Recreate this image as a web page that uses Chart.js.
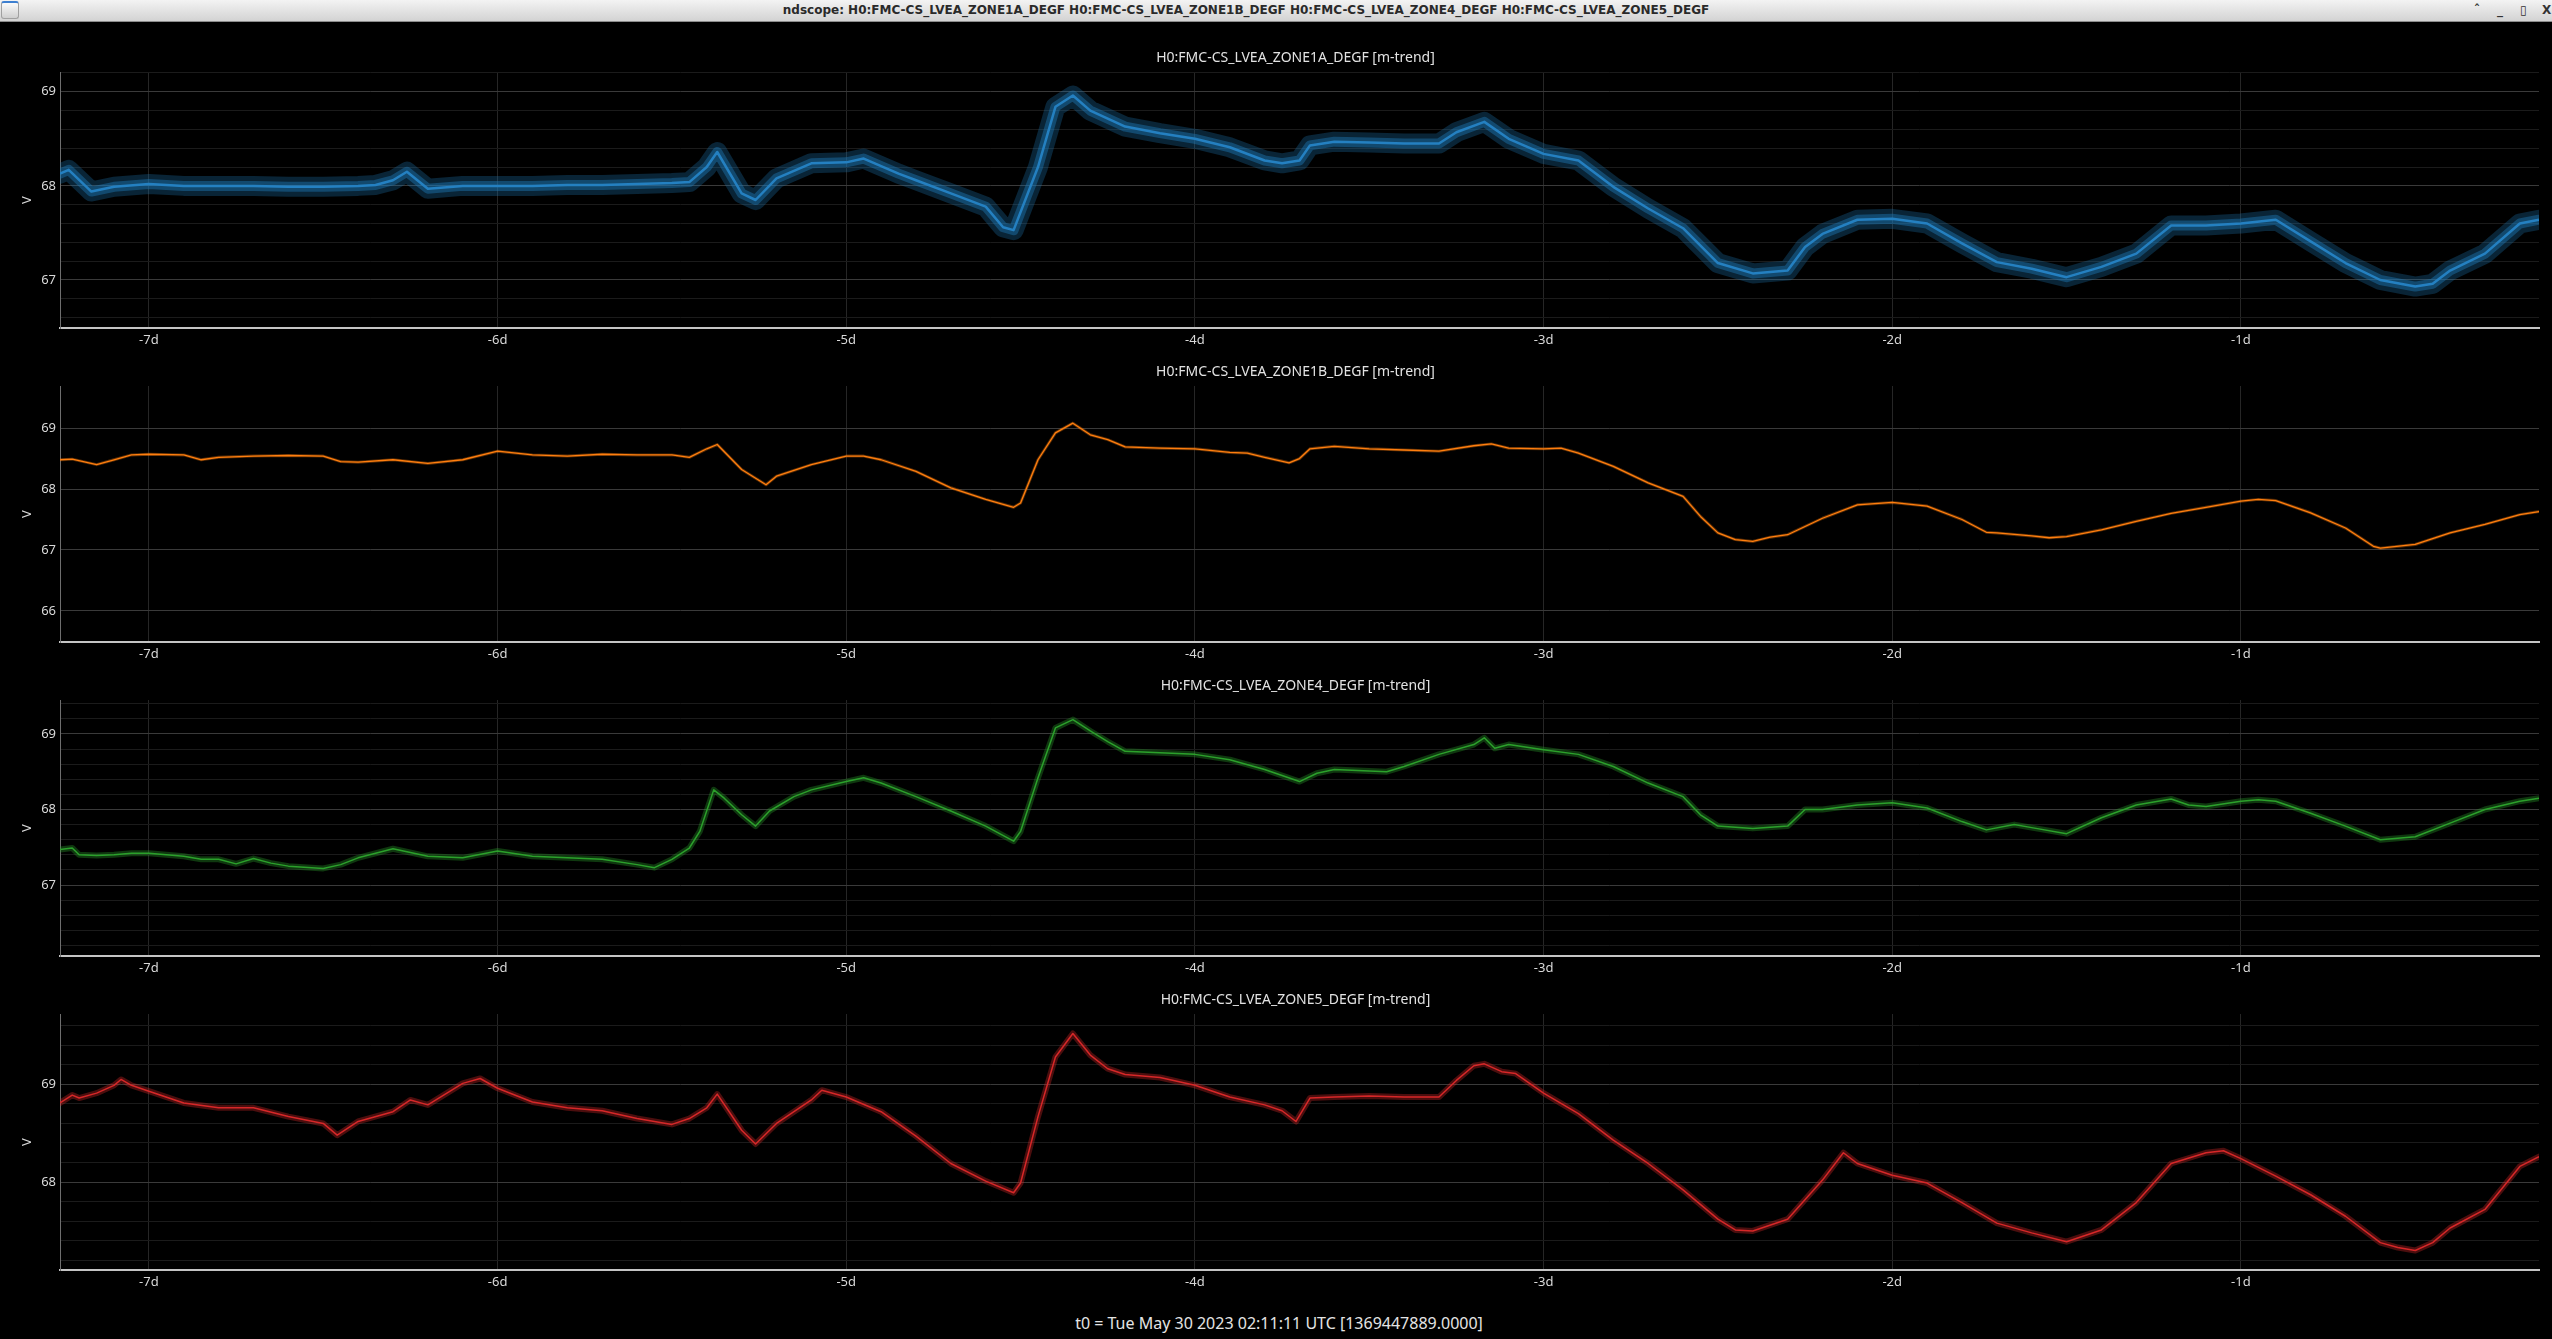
<!DOCTYPE html>
<html>
<head>
<meta charset="utf-8">
<title>ndscope</title>
<script src="https://cdn.jsdelivr.net/npm/chart.js@4.4.0/dist/chart.umd.min.js"></script>
<style>
  html, body { margin: 0; padding: 0; background: #000; width: 2552px; height: 1339px; overflow: hidden; }
  #titlebar { position: absolute; left: 0; top: 0; width: 2552px; height: 22px; box-sizing: border-box;
    background: linear-gradient(#f3f3f3, #d3d3d3); border-bottom: 1px solid #8c8c8c; }
  #titlebar .txt { position: absolute; left: 0; top: 0; width: 2492px; text-align: center;
    font: bold 12px "DejaVu Sans"; line-height: 21px; color: #2a2a2a; white-space: nowrap; }
  #titlebar .icon { position: absolute; left: 1px; top: 1px; width: 18px; height: 18px; border-radius: 3px;
    background: linear-gradient(#fafafa, #cfcfcf); border: 1px solid #a0a0a0; border-top: 2px solid #3d7fd0; box-sizing: border-box; }
  #titlebar .btn { position: absolute; top: 0; font: bold 12px "DejaVu Sans"; line-height: 20px; color: #333; }
  canvas { position: absolute; left: 0; }
  #t0 { position: absolute; left: 0; width: 2558px; top: 1312px; text-align: center;
    font: 16px "Noto Sans"; color: #e4e4e4; }
</style>
</head>
<body>
<div id="titlebar">
  <div class="icon"></div>
  <div class="txt">ndscope: H0:FMC-CS_LVEA_ZONE1A_DEGF H0:FMC-CS_LVEA_ZONE1B_DEGF H0:FMC-CS_LVEA_ZONE4_DEGF H0:FMC-CS_LVEA_ZONE5_DEGF</div>
  <span class="btn" style="left:2474px">&#710;</span>
  <span class="btn" style="left:2497px">_</span>
  <span class="btn" style="left:2520px">&#9647;</span>
  <span class="btn" style="left:2542px">X</span>
</div>
<canvas id="p1" width="2552" height="314" style="top:42px"></canvas>
<canvas id="p2" width="2552" height="314" style="top:356px"></canvas>
<canvas id="p3" width="2552" height="314" style="top:670px"></canvas>
<canvas id="p4" width="2552" height="314" style="top:984px"></canvas>
<div id="t0">t0 = Tue May 30 2023 02:11:11 UTC [1369447889.0000]</div>
<script>
// days relative to t0
const dayTicks = [-7, -6, -5, -4, -3, -2, -1];
const dayLabels = ['-7d', '-6d', '-5d', '-4d', '-3d', '-2d', '-1d'];

// ZONE1A
const zone1aTimes = [
  -7.255, -7.23, -7.165, -7.1, -7.0, -6.9, -6.8, -6.7, -6.6, -6.5,
  -6.4, -6.35, -6.3, -6.26, -6.2, -6.1, -6.0, -5.9, -5.8, -5.7,
  -5.6, -5.5, -5.45, -5.4, -5.37, -5.3, -5.26, -5.2, -5.1, -5.0,
  -4.95, -4.85, -4.8, -4.7, -4.6, -4.55, -4.52, -4.45, -4.4, -4.35,
  -4.3, -4.2, -4.1, -4.0, -3.9, -3.8, -3.75, -3.7, -3.67, -3.6,
  -3.5, -3.4, -3.3, -3.25, -3.17, -3.1, -3.0, -2.9, -2.8, -2.7,
  -2.6, -2.5, -2.4, -2.3, -2.25, -2.2, -2.1, -2.0, -1.9, -1.8,
  -1.7, -1.6, -1.5, -1.4, -1.3, -1.2, -1.1, -1.0, -0.9, -0.8,
  -0.7, -0.6, -0.5, -0.45, -0.4, -0.3, -0.2, -0.145
];
const zone1aValues = [
  68.13, 68.17, 67.94, 67.99, 68.02, 68.0, 68.0, 68.0, 67.99, 67.99,
  68.0, 68.01, 68.06, 68.15, 67.97, 68.0, 68.0, 68.0, 68.01, 68.01,
  68.02, 68.03, 68.04, 68.2, 68.36, 67.92, 67.85, 68.08, 68.24, 68.25,
  68.29, 68.13, 68.06, 67.92, 67.78, 67.56, 67.53, 68.2, 68.84, 68.96,
  68.8, 68.63, 68.56, 68.5, 68.41, 68.27, 68.24, 68.27, 68.43, 68.47,
  68.46, 68.45, 68.45, 68.57, 68.68, 68.5, 68.34, 68.27, 67.99, 67.76,
  67.55, 67.18, 67.07, 67.1, 67.35, 67.49, 67.64, 67.65, 67.6, 67.39,
  67.19, 67.12, 67.03, 67.14, 67.28, 67.58, 67.58, 67.6, 67.64, 67.41,
  67.18, 67.0, 66.93, 66.96, 67.1, 67.28, 67.6, 67.64
];

// ZONE1B
const zone1bTimes = [
  -7.255, -7.22, -7.15, -7.1, -7.05, -7.0, -6.9, -6.85, -6.8, -6.7,
  -6.6, -6.5, -6.45, -6.4, -6.3, -6.2, -6.1, -6.0, -5.9, -5.8,
  -5.7, -5.6, -5.5, -5.45, -5.4, -5.37, -5.3, -5.23, -5.2, -5.1,
  -5.0, -4.95, -4.9, -4.8, -4.7, -4.6, -4.52, -4.5, -4.45, -4.4,
  -4.35, -4.3, -4.25, -4.2, -4.1, -4.0, -3.9, -3.85, -3.8, -3.73,
  -3.7, -3.67, -3.6, -3.5, -3.4, -3.3, -3.2, -3.15, -3.1, -3.0,
  -2.95, -2.9, -2.8, -2.7, -2.6, -2.55, -2.5, -2.45, -2.4, -2.35,
  -2.3, -2.2, -2.1, -2.0, -1.9, -1.8, -1.73, -1.7, -1.6, -1.55,
  -1.5, -1.4, -1.3, -1.2, -1.1, -1.0, -0.95, -0.9, -0.8, -0.7,
  -0.62, -0.6, -0.5, -0.4, -0.3, -0.2, -0.145
];
const zone1bValues = [
  68.48, 68.49, 68.4, 68.48, 68.56, 68.57, 68.56, 68.48, 68.52, 68.54,
  68.55, 68.54, 68.45, 68.44, 68.48, 68.42, 68.48, 68.62, 68.56, 68.54,
  68.57, 68.56, 68.56, 68.52, 68.66, 68.73, 68.32, 68.07, 68.21, 68.4,
  68.54, 68.54, 68.48, 68.29, 68.02, 67.83, 67.7, 67.77, 68.48, 68.92,
  69.08, 68.89, 68.81, 68.69, 68.67, 68.66, 68.6, 68.59, 68.52, 68.43,
  68.5, 68.66, 68.7, 68.66, 68.64, 68.62, 68.71, 68.74, 68.67, 68.66,
  68.67, 68.59, 68.37, 68.1, 67.88, 67.55, 67.28, 67.17, 67.14, 67.21,
  67.25, 67.52, 67.74, 67.78, 67.72, 67.5, 67.29, 67.28, 67.23, 67.2,
  67.22, 67.33, 67.47, 67.6, 67.7, 67.8, 67.83, 67.81, 67.61, 67.36,
  67.06, 67.03, 67.09, 67.28, 67.42, 67.58, 67.63
];

// ZONE4
const zone4Times = [
  -7.255, -7.22, -7.2, -7.15, -7.1, -7.05, -7.0, -6.9, -6.85, -6.8,
  -6.75, -6.7, -6.65, -6.6, -6.5, -6.45, -6.4, -6.3, -6.2, -6.1,
  -6.0, -5.9, -5.8, -5.7, -5.6, -5.55, -5.5, -5.45, -5.42, -5.38,
  -5.35, -5.3, -5.26, -5.22, -5.15, -5.1, -5.0, -4.95, -4.9, -4.8,
  -4.7, -4.6, -4.52, -4.5, -4.45, -4.4, -4.35, -4.3, -4.25, -4.2,
  -4.1, -4.0, -3.9, -3.8, -3.7, -3.65, -3.6, -3.5, -3.45, -3.4,
  -3.3, -3.2, -3.17, -3.14, -3.1, -3.0, -2.9, -2.8, -2.7, -2.6,
  -2.55, -2.5, -2.4, -2.3, -2.25, -2.2, -2.1, -2.0, -1.9, -1.8,
  -1.73, -1.65, -1.6, -1.5, -1.4, -1.3, -1.2, -1.15, -1.1, -1.0,
  -0.95, -0.9, -0.8, -0.7, -0.6, -0.5, -0.4, -0.3, -0.2, -0.145
];
const zone4Values = [
  67.47, 67.49, 67.4, 67.39, 67.4, 67.42, 67.42, 67.38, 67.34, 67.34,
  67.28, 67.35, 67.29, 67.25, 67.22, 67.27, 67.36, 67.48, 67.38, 67.36,
  67.45, 67.38, 67.36, 67.34, 67.27, 67.23, 67.34, 67.49, 67.71, 68.26,
  68.15, 67.93, 67.78, 67.98, 68.17, 68.26, 68.37, 68.42, 68.35, 68.17,
  67.98, 67.78, 67.58, 67.71, 68.42, 69.08, 69.19, 69.04, 68.9, 68.77,
  68.75, 68.73, 68.66, 68.53, 68.37, 68.48, 68.53, 68.51, 68.5, 68.57,
  68.73, 68.86, 68.95, 68.81, 68.86, 68.79, 68.73, 68.57, 68.35, 68.17,
  67.93, 67.78, 67.75, 67.78, 68.0, 68.0, 68.06, 68.09, 68.02, 67.84,
  67.73, 67.8, 67.76, 67.68, 67.89, 68.06, 68.14, 68.06, 68.04, 68.11,
  68.13, 68.11, 67.95, 67.78, 67.6, 67.64, 67.82, 68.0, 68.11, 68.15
];

// ZONE5
const zone5Times = [
  -7.255, -7.22, -7.2, -7.15, -7.1, -7.08, -7.05, -7.0, -6.9, -6.8,
  -6.7, -6.6, -6.5, -6.46, -6.4, -6.3, -6.25, -6.2, -6.1, -6.05,
  -6.0, -5.9, -5.8, -5.7, -5.6, -5.5, -5.45, -5.4, -5.37, -5.3,
  -5.26, -5.2, -5.1, -5.07, -5.0, -4.9, -4.8, -4.7, -4.6, -4.52,
  -4.5, -4.45, -4.4, -4.35, -4.3, -4.25, -4.2, -4.1, -4.0, -3.9,
  -3.8, -3.75, -3.71, -3.67, -3.6, -3.5, -3.4, -3.3, -3.25, -3.2,
  -3.17, -3.12, -3.08, -3.0, -2.9, -2.8, -2.7, -2.6, -2.5, -2.45,
  -2.4, -2.3, -2.2, -2.14, -2.1, -2.0, -1.9, -1.8, -1.7, -1.6,
  -1.5, -1.4, -1.3, -1.2, -1.1, -1.05, -1.0, -0.9, -0.8, -0.7,
  -0.6, -0.55, -0.5, -0.45, -0.4, -0.3, -0.2, -0.145
];
const zone5Values = [
  68.81, 68.89, 68.86, 68.91, 68.99, 69.05, 68.99, 68.93, 68.81, 68.76,
  68.76, 68.67, 68.6, 68.48, 68.62, 68.72, 68.84, 68.79, 69.01, 69.06,
  68.96, 68.82, 68.76, 68.73, 68.65, 68.59, 68.65, 68.76, 68.9, 68.53,
  68.39, 68.6, 68.84, 68.94, 68.87, 68.72, 68.47, 68.19, 68.01, 67.89,
  67.99, 68.67, 69.28, 69.52, 69.3, 69.16, 69.1, 69.07, 68.99, 68.87,
  68.79, 68.73, 68.62, 68.86, 68.87, 68.88, 68.87, 68.87, 69.04, 69.19,
  69.21, 69.13, 69.11, 68.91, 68.7, 68.43, 68.19, 67.92, 67.62, 67.51,
  67.5, 67.62, 68.02, 68.3, 68.19, 68.07, 67.99, 67.79, 67.58, 67.48,
  67.39, 67.51, 67.79, 68.19, 68.3, 68.32, 68.24, 68.06, 67.87, 67.65,
  67.38, 67.33, 67.3, 67.38, 67.53, 67.72, 68.16, 68.26
];

// y tick labels per panel
const zone1aYLabels = [67, 68, 69];
const zone1bYLabels = [66, 67, 68, 69];
const zone4YLabels = [67, 68, 69];
const zone5YLabels = [68, 69];

const FONT = '"Noto Sans", "DejaVu Sans", sans-serif';

const panelTitle = {
  id: 'panelTitle',
  afterDraw(chart, args, opts) {
    const { ctx, chartArea } = chart;
    ctx.save();
    ctx.fillStyle = '#e2e2e2';
    ctx.font = '14px ' + FONT;
    ctx.textAlign = 'center';
    ctx.textBaseline = 'middle';
    ctx.fillText(opts.text, (chartArea.left + chartArea.right) / 2 - 4, chartArea.top - 14);
    ctx.restore();
  }
};

function isWhole(v) {
  return Math.abs(v - Math.round(v)) < 1e-6;
}

// the min/max spread of the m-trend is shown as soft translucent strokes under the mean line
function drawPanel(id, title, times, values, color, glow, lineWidth, yMin, yMax, step, yLabels) {
  const pts = times.map((t, i) => ({ x: t, y: values[i] }));
  const sets = glow.map(g => ({
    data: pts, borderColor: g[0], borderWidth: g[1], pointRadius: 0, tension: 0,
    borderJoinStyle: 'round', borderCapStyle: 'round'
  }));
  sets.push({ data: pts, borderColor: color, borderWidth: lineWidth, pointRadius: 0, tension: 0, borderJoinStyle: 'round' });
  new Chart(document.getElementById(id), {
    type: 'line',
    data: { datasets: sets },
    options: {
      responsive: false,
      animation: false,
      devicePixelRatio: 1,
      layout: { padding: { top: 30, right: 13, left: 0, bottom: 0 } },
      plugins: {
        legend: { display: false },
        tooltip: { enabled: false },
        panelTitle: { text: title }
      },
      scales: {
        x: {
          type: 'linear',
          min: -7.255,
          max: -0.145,
          afterFit(scale) { scale.height = 28; },
          ticks: {
            stepSize: 1,
            includeBounds: false,
            autoSkip: false,
            maxRotation: 0,
            padding: 4,
            color: '#d8d8d8',
            font: { family: FONT, size: 13 },
            callback(v) {
              const i = dayTicks.indexOf(Math.round(v));
              return i >= 0 ? dayLabels[i] : '';
            }
          },
          grid: { color: '#262626', lineWidth: 1, drawTicks: false },
          border: { color: '#c4c4c4', width: 2 }
        },
        y: {
          type: 'linear',
          min: yMin,
          max: yMax,
          afterFit(scale) { scale.width = 60; },
          title: {
            display: true,
            text: 'V',
            color: '#d8d8d8',
            font: { family: FONT, size: 13 },
            padding: { top: 19, bottom: 0 }
          },
          ticks: {
            stepSize: step,
            includeBounds: false,
            autoSkip: false,
            padding: 4,
            color: '#d8d8d8',
            font: { family: FONT, size: 13 },
            callback(v) {
              return isWhole(v) && yLabels.includes(Math.round(v)) ? String(Math.round(v)) : '';
            }
          },
          grid: {
            drawTicks: false,
            lineWidth: 1,
            color(c) { return isWhole(c.tick.value) ? '#3a3a3a' : '#1b1b1b'; }
          },
          border: { color: '#6e6e6e', width: 1 }
        }
      }
    },
    plugins: [panelTitle]
  });
}

drawPanel('p1', 'H0:FMC-CS_LVEA_ZONE1A_DEGF [m-trend]', zone1aTimes, zone1aValues,
  '#2f8fd8', [['rgba(31,119,180,0.3)', 20], ['rgba(31,119,180,0.45)', 10]], 2.5,
  66.49, 69.21, 0.2, zone1aYLabels);
drawPanel('p2', 'H0:FMC-CS_LVEA_ZONE1B_DEGF [m-trend]', zone1bTimes, zone1bValues,
  '#ff7f0e', [['rgba(255,127,14,0.35)', 3]], 1.3,
  65.49, 69.69, 1, zone1bYLabels);
drawPanel('p3', 'H0:FMC-CS_LVEA_ZONE4_DEGF [m-trend]', zone4Times, zone4Values,
  '#2ca02c', [['rgba(44,160,44,0.35)', 6]], 1.5,
  66.06, 69.45, 0.2, zone4YLabels);
drawPanel('p4', 'H0:FMC-CS_LVEA_ZONE5_DEGF [m-trend]', zone5Times, zone5Values,
  '#d62728', [['rgba(214,39,40,0.35)', 6]], 1.5,
  67.10, 69.72, 0.2, zone5YLabels);
</script>
</body>
</html>
